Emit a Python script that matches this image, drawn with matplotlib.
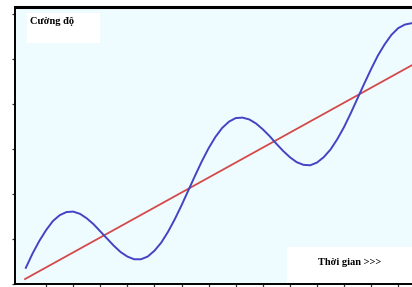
"""
Recreate the "Cường độ / Thời gian" chart: a rising trend line with a wave around it.
"""

import matplotlib
matplotlib.use("Agg")
import matplotlib.pyplot as plt
from matplotlib.patches import Rectangle


# -----------------------------
# 1. Chart data
# -----------------------------

# Wavy blue curve
WAVE_X = [0.25, 0.5, 0.75, 1.0, 1.25, 1.5, 1.75, 2.0, 2.25, 2.5, 2.75, 3.0,
          3.25, 3.5, 3.75, 4.0, 4.25, 4.5, 4.75, 5.0, 5.25, 5.5, 5.75, 6.0,
          6.25, 6.5, 6.75, 7.0, 7.25, 7.5, 7.75, 8.0, 8.25, 8.5, 8.75, 9.0,
          9.25, 9.5, 9.75, 10.0, 10.25, 10.5, 10.75, 11.0, 11.25, 11.5, 11.75, 12.0,
          12.25, 12.5, 12.75, 13.0, 13.25, 13.5, 13.75, 14.0, 14.25, 14.5]
WAVE_Y = [0.36, 0.68, 0.96, 1.20, 1.40, 1.53, 1.60, 1.61, 1.56, 1.46, 1.33, 1.17,
          1.01, 0.85, 0.71, 0.61, 0.55, 0.55, 0.61, 0.74, 0.92, 1.16, 1.44, 1.75,
          2.08, 2.41, 2.73, 3.02, 3.27, 3.47, 3.61, 3.69, 3.70, 3.66, 3.57, 3.44,
          3.29, 3.12, 2.96, 2.82, 2.71, 2.65, 2.64, 2.70, 2.82, 2.99, 3.22, 3.49,
          3.80, 4.13, 4.46, 4.78, 5.08, 5.33, 5.54, 5.69, 5.77, 5.80]

# Straight red trend line
TREND_X = [0.22, 14.52]
TREND_Y = [0.11, 4.87]

X_TICKS = list(range(1, 15))
Y_TICKS = list(range(0, 7))

Y_LABEL = "Cường độ"
X_LABEL = "Thời gian >>>"

BACKGROUND = "#effcff"
WAVE_COLOR = "#4343c4"
TREND_COLOR = "#d44a4a"

FONT = ["Liberation Serif", "DejaVu Serif"]


# -----------------------------
# 2. Plot
# -----------------------------

fig = plt.figure(figsize=(4.12, 2.87), dpi=100, facecolor="white")
ax = fig.add_axes([15 / 412, 3 / 287, 397 / 412, 277 / 287])
ax.set_facecolor(BACKGROUND)

ax.plot(TREND_X, TREND_Y, color=TREND_COLOR, linewidth=1.3, zorder=3)
ax.plot(WAVE_X, WAVE_Y, color=WAVE_COLOR, linewidth=1.4, zorder=4)

ax.set_xlim(-0.15, 14.51)
ax.set_ylim(0, 6.16)

ax.set_xticks(X_TICKS)
ax.set_yticks(Y_TICKS)
ax.set_xticklabels([])
ax.set_yticklabels([])
ax.tick_params(direction="out", length=2.5, width=0.9, color="#333333")

ax.spines["right"].set_visible(False)
ax.spines["top"].set_linewidth(2.2)
ax.spines["left"].set_linewidth(1.4)
ax.spines["bottom"].set_linewidth(1.4)
for spine in ax.spines.values():
    spine.set_color("black")

# White label boxes
ax.add_patch(Rectangle((0.03, 0.87), 0.184, 0.108, transform=ax.transAxes,
                       facecolor="white", edgecolor="none", zorder=2))
ax.add_patch(Rectangle((0.685, 0.0), 0.315, 0.134, transform=ax.transAxes,
                       facecolor="white", edgecolor="none", zorder=2))

ax.text(0.038, 0.946, Y_LABEL, transform=ax.transAxes, ha="left", va="center",
        fontsize=7.5, fontweight="bold", family=FONT, zorder=5)
ax.text(0.844, 0.076, X_LABEL, transform=ax.transAxes, ha="center", va="center",
        fontsize=7.5, fontweight="bold", family=FONT, zorder=5)

fig.savefig("out.png", dpi=100, facecolor="white")
